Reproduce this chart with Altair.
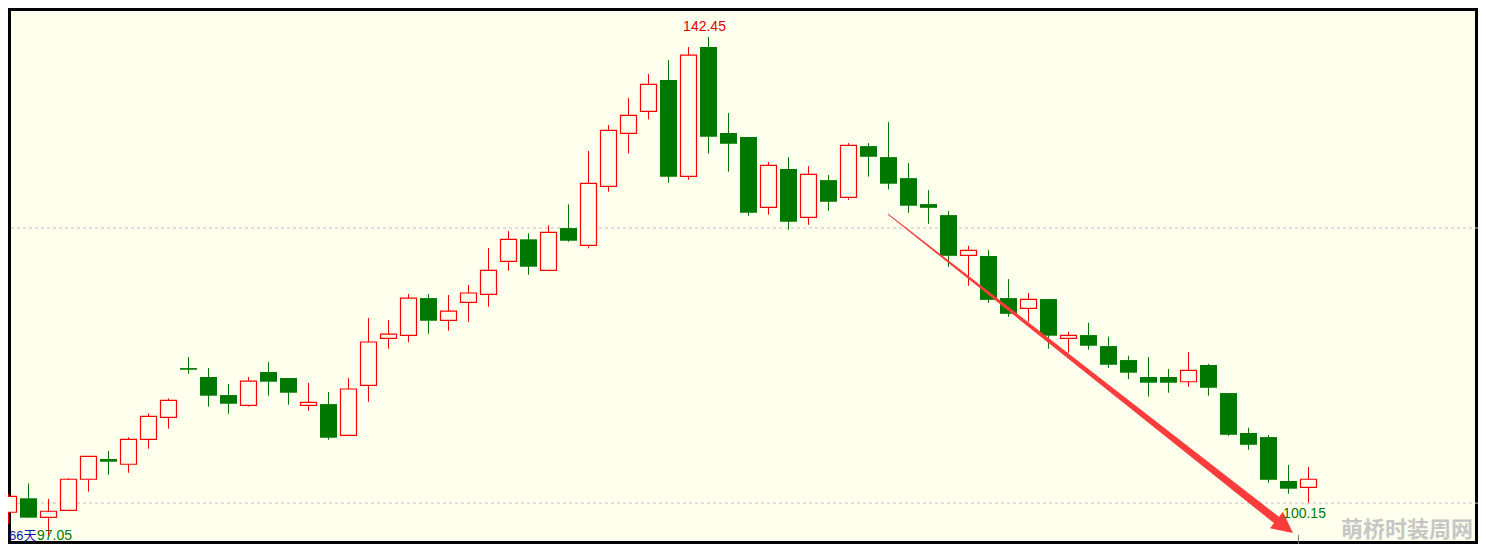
import math
import altair as alt
import numpy as np
import pandas as pd

# ---- candle data (66 trading days) ----
OPEN = [99.27, 100.54, 98.81, 99.45, 102.27, 104.11, 103.63, 105.90, 107.89, 112.37,
        111.56, 109.92, 108.98, 112.01, 111.47, 108.98, 109.10, 106.26, 110.80, 115.07,
        115.35, 118.73, 116.71, 118.34, 119.07, 122.07, 124.07, 121.25, 125.09, 123.52,
        128.88, 133.70, 135.70, 138.54, 129.79, 141.54, 133.73, 133.36, 126.97, 130.45,
        126.06, 129.45, 127.88, 132.54, 131.54, 129.63, 127.27, 126.27, 122.61, 122.55,
        118.73, 117.79, 118.64, 115.07, 115.37, 114.37, 113.10, 111.56, 111.56, 111.13,
        112.65, 110.10, 106.47, 106.10, 102.11, 101.53]
CLOSE = [100.72, 98.78, 99.36, 102.27, 104.35, 103.86, 105.90, 107.99, 109.44, 112.22,
         109.86, 109.13, 111.19, 111.13, 110.13, 109.26, 106.04, 110.47, 114.74, 115.46,
         118.73, 116.67, 117.55, 119.19, 121.25, 124.07, 121.58, 124.70, 123.94, 129.16,
         133.97, 135.33, 138.15, 129.76, 140.81, 133.39, 132.75, 126.48, 130.79, 125.66,
         129.97, 127.48, 132.61, 131.57, 129.12, 127.12, 126.93, 122.57, 123.06, 118.57,
         117.30, 118.61, 115.31, 115.35, 114.40, 112.67, 111.95, 111.04, 111.04, 112.16,
         110.58, 106.31, 105.40, 102.22, 101.41, 102.27]
HIGH = [100.93, 101.90, 100.48, 102.36, 104.35, 104.84, 106.08, 108.26, 109.62, 113.37,
        112.37, 110.92, 111.56, 112.92, 111.47, 111.01, 110.19, 111.47, 116.92, 116.74,
        119.10, 119.10, 119.01, 119.92, 123.28, 124.82, 124.61, 125.34, 127.25, 132.09,
        134.45, 136.91, 139.09, 140.36, 141.54, 142.45, 135.54, 133.36, 131.09, 131.54,
        130.72, 129.91, 132.81, 132.81, 134.72, 131.00, 128.54, 126.63, 123.48, 123.09,
        120.46, 119.19, 118.64, 115.67, 116.49, 115.22, 113.49, 113.37, 112.28, 113.83,
        112.76, 110.10, 106.95, 106.29, 103.56, 103.38]
LOW = [98.23, 98.78, 97.05, 99.45, 101.14, 102.68, 102.86, 105.04, 106.86, 111.86,
       108.86, 108.22, 108.86, 109.86, 109.04, 108.49, 105.86, 106.26, 109.31, 114.13,
       114.71, 115.49, 115.76, 116.55, 117.94, 121.21, 120.85, 121.25, 123.85, 123.25,
       128.39, 131.88, 134.97, 129.21, 129.48, 131.85, 130.21, 126.21, 126.30, 124.94,
       125.39, 126.66, 127.66, 129.76, 128.59, 126.48, 125.48, 121.57, 119.85, 118.30,
       117.03, 116.58, 114.13, 113.76, 114.04, 112.40, 111.37, 109.77, 110.13, 110.67,
       109.86, 106.22, 104.95, 101.95, 100.95, 100.15]

GRID_PRICES = [125.1, 100.1]

# arrow annotation (x in candle index, y in price)
ARROW_X = [43.99, 63.40]
ARROW_Y = [126.34, 98.57]
ARROW_W = [1, 8]
HEAD_X = [63.81]
HEAD_Y = [97.98]

DAYS_LABEL = ["66天"]
DAYS_X = [0.025]
DAYS_Y = [97.05]
WATERMARK = ["萌桥时装周网"]
WM_X = [73.22]
WM_Y = [97.70]
TICK_X = [64.5]
TICK_Y = [97.21]
TICK_Y2 = [96.39]

# ---- styles ----
BG = "#FFFFEE"
RED = "#FF0000"
GREEN = "#007800"
ARROWC = "#FA3C3C"
GRIDC = "#BEBEC6"
W, H = 1470, 536
XDOM = [-0.025, 73.475]
YDOM = [96.386, 145.087]

xs = alt.Scale(domain=XDOM, nice=False, zero=False)
ys = alt.Scale(domain=YDOM, nice=False, zero=False)

df = pd.DataFrame({"i": list(range(len(OPEN))), "open": OPEN, "close": CLOSE,
                   "high": HIGH, "low": LOW})
df["dir"] = np.where(df["close"] >= df["open"], "up", "down")

base = alt.Chart(df)

grid = alt.Chart(pd.DataFrame({"p": GRID_PRICES})).mark_rule(
    color=GRIDC, strokeDash=[3, 3], strokeWidth=1
).encode(y=alt.Y("p:Q", scale=ys, axis=None))

wicks = base.mark_rule(strokeWidth=1).encode(
    x=alt.X("i:Q", scale=xs, axis=None),
    y=alt.Y("low:Q", scale=ys, axis=None),
    y2="high:Q",
    color=alt.Color("dir:N", scale=alt.Scale(domain=["up", "down"], range=[RED, GREEN]), legend=None),
)

down = base.transform_filter("datum.dir == 'down'").transform_calculate(
    a="datum.i - 0.425", b="datum.i + 0.425"
).mark_rect(color=GREEN).encode(
    x=alt.X("a:Q", scale=xs, axis=None), x2="b:Q",
    y=alt.Y("open:Q", scale=ys, axis=None), y2="close:Q",
)

up = base.transform_filter("datum.dir == 'up'").transform_calculate(
    a="datum.i - 0.4", b="datum.i + 0.4"
).mark_rect(fill=BG, stroke=RED, strokeWidth=1.2).encode(
    x=alt.X("a:Q", scale=xs, axis=None), x2="b:Q",
    y=alt.Y("close:Q", scale=ys, axis=None), y2="open:Q",
)

trail = alt.Chart(pd.DataFrame({"x": ARROW_X, "y": ARROW_Y, "w": ARROW_W})).mark_trail(
    color=ARROWC
).encode(
    x=alt.X("x:Q", scale=xs, axis=None),
    y=alt.Y("y:Q", scale=ys, axis=None),
    size=alt.Size("w:Q", scale=None, legend=None),
)

ppx = W / (XDOM[1] - XDOM[0])
ppy = H / (YDOM[1] - YDOM[0])
ang = math.degrees(math.atan2((ARROW_Y[0] - ARROW_Y[1]) * ppy, (ARROW_X[1] - ARROW_X[0]) * ppx))

head = alt.Chart(pd.DataFrame({"x": HEAD_X, "y": HEAD_Y})).mark_point(
    shape="M1,0L-1,-1L-1,1Z", filled=True, size=441, angle=ang,
    color=ARROWC, opacity=1, strokeWidth=0
).encode(x=alt.X("x:Q", scale=xs, axis=None), y=alt.Y("y:Q", scale=ys, axis=None))

tick = alt.Chart(pd.DataFrame({"x": TICK_X, "y": TICK_Y, "y2": TICK_Y2})).mark_rule(
    color="#7A7A7A", strokeWidth=1
).encode(x=alt.X("x:Q", scale=xs, axis=None), y=alt.Y("y:Q", scale=ys, axis=None), y2="y2:Q")

imax = int(df["high"].idxmax())
hi_df = pd.DataFrame({"x": [imax], "y": [df["high"][imax]], "t": [f"{df['high'][imax]:.2f}"]})
imin = int(df["low"].idxmin())
lo_df = pd.DataFrame({"x": [imin], "y": [df["low"][imin]], "t": [f"{df['low'][imin]:.2f}"]})
last = len(df) - 1
last_df = pd.DataFrame({"x": [last], "y": [df["low"][last]], "t": [f"{df['low'][last]:.2f}"]})

def label(d, color, dx, dy, align="center", size=14, font="Liberation Sans", weight="normal"):
    return alt.Chart(d).mark_text(
        color=color, dx=dx, dy=dy, align=align, baseline="middle",
        fontSize=size, font=font, fontWeight=weight
    ).encode(
        x=alt.X("x:Q", scale=xs, axis=None),
        y=alt.Y("y:Q", scale=ys, axis=None),
        text="t:N",
    )

t_hi = label(hi_df, "#E00000", -4, -10)
t_lo = label(lo_df, GREEN, 6, -1)
t_last = label(last_df, GREEN, -4, 11)
t_days = label(pd.DataFrame({"x": DAYS_X, "y": DAYS_Y, "t": DAYS_LABEL}), "#1010B0", 0, -1,
               align="left", size=13, font="Liberation Sans, Noto Sans CJK SC")
t_wm = label(pd.DataFrame({"x": WM_X, "y": WM_Y, "t": WATERMARK}), "#C6C6C6", 0, 0,
             align="right", size=22, font="Noto Sans CJK SC", weight="bold")

chart = alt.layer(
    grid, wicks, down, up, trail, head, tick, t_hi, t_lo, t_last, t_days, t_wm
).properties(
    width=W, height=H, padding=0,
    autosize=alt.AutoSizeParams(type="none"),
    background=BG,
).configure_view(stroke="black", strokeWidth=6, fill=BG)

chart.save("out.html", embed_options={"renderer": "svg", "actions": False})
